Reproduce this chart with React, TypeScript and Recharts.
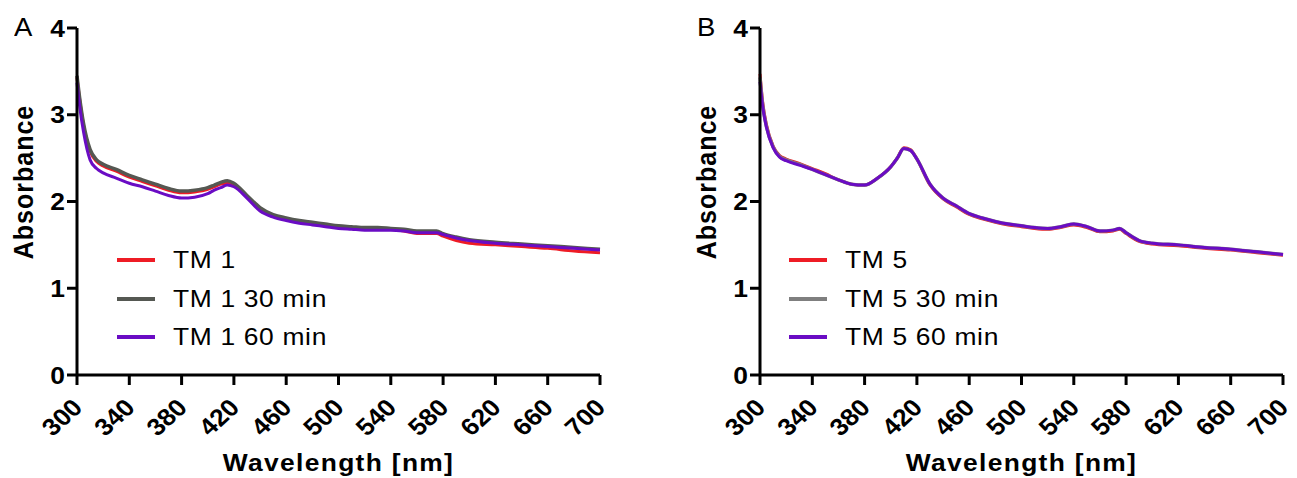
import React from "react";
import { Legend, Line, LineChart, XAxis, YAxis, Label } from "recharts";

// wavelength grid (nm)
const wavelengths = [
  300, 302, 305, 310, 315, 320, 330, 340, 350, 360, 370, 380, 390, 400, 405,
  410, 415, 420, 430, 440, 450, 460, 470, 480, 490, 500, 510, 520, 530, 540,
  550, 560, 570, 575, 580, 590, 600, 620, 640, 660, 680, 700,
];

// panel A
const tm1 = [
  3.43, 3.18, 2.88, 2.58, 2.46, 2.41, 2.35, 2.28, 2.23, 2.18, 2.13, 2.1, 2.11,
  2.14, 2.17, 2.2, 2.21, 2.19, 2.06, 1.92, 1.84, 1.8, 1.77, 1.75, 1.73, 1.71,
  1.7, 1.69, 1.69, 1.68, 1.66, 1.63, 1.63, 1.63, 1.6, 1.55, 1.52, 1.5, 1.48,
  1.46, 1.43, 1.41,
];
const tm1_30 = [
  3.45, 3.2, 2.9, 2.6, 2.48, 2.43, 2.37, 2.3, 2.25, 2.2, 2.15, 2.12, 2.13, 2.16,
  2.19, 2.22, 2.24, 2.21, 2.07, 1.93, 1.85, 1.81, 1.78, 1.76, 1.74, 1.72, 1.71,
  1.7, 1.7, 1.69, 1.68, 1.66, 1.66, 1.66, 1.63, 1.59, 1.56, 1.53, 1.51, 1.49,
  1.47, 1.45,
];
const tm1_60 = [
  3.37, 3.1, 2.8, 2.48, 2.38, 2.33, 2.27, 2.21, 2.17, 2.12, 2.07, 2.04, 2.05,
  2.09, 2.13, 2.16, 2.19, 2.17, 2.04, 1.89, 1.82, 1.78, 1.75, 1.73, 1.71, 1.69,
  1.68, 1.67, 1.67, 1.67, 1.66, 1.64, 1.64, 1.64, 1.62, 1.58, 1.55, 1.52, 1.5,
  1.48, 1.46, 1.44,
];

// panel B
const tm5 = [
  3.47, 3.15, 2.88, 2.64, 2.53, 2.49, 2.44, 2.38, 2.32, 2.25, 2.2, 2.19, 2.27,
  2.4, 2.5, 2.62, 2.6, 2.49, 2.19, 2.03, 1.94, 1.85, 1.8, 1.76, 1.73, 1.71, 1.69,
  1.68, 1.7, 1.73, 1.7, 1.65, 1.66, 1.68, 1.63, 1.54, 1.51, 1.49, 1.46, 1.44,
  1.41, 1.38,
];
const tm5_30 = [
  3.43, 3.12, 2.86, 2.63, 2.52, 2.48, 2.43, 2.37, 2.31, 2.25, 2.2, 2.19, 2.27,
  2.4, 2.5, 2.61, 2.59, 2.49, 2.2, 2.04, 1.95, 1.86, 1.81, 1.77, 1.74, 1.72, 1.7,
  1.69, 1.71, 1.74, 1.71, 1.66, 1.67, 1.69, 1.64, 1.55, 1.52, 1.5, 1.47, 1.45,
  1.42, 1.39,
];
const tm5_60 = [
  3.38, 3.1, 2.85, 2.62, 2.51, 2.47, 2.42, 2.37, 2.31, 2.25, 2.2, 2.19, 2.27,
  2.4, 2.5, 2.61, 2.59, 2.49, 2.2, 2.04, 1.95, 1.86, 1.81, 1.77, 1.74, 1.72, 1.7,
  1.69, 1.71, 1.74, 1.71, 1.66, 1.67, 1.69, 1.64, 1.55, 1.52, 1.5, 1.47, 1.45,
  1.42, 1.39,
];

const xTicks = [300, 340, 380, 420, 460, 500, 540, 580, 620, 660, 700];
const yTicks = [0, 1, 2, 3, 4];

const FONT = "Arial, 'Liberation Sans', sans-serif";
const RED = "#ee1c25";
const PURPLE = "#6a0cc4";

const dataA = wavelengths.map((w, i) => ({
  w,
  s0: tm1[i],
  s30: tm1_30[i],
  s60: tm1_60[i],
}));
const dataB = wavelengths.map((w, i) => ({
  w,
  s0: tm5[i],
  s30: tm5_30[i],
  s60: tm5_60[i],
}));

const YTick = (props: any) => {
  const { x, y, payload } = props;
  return (
    <g transform={`translate(${x},${y})`}>
      <text
        transform="scale(1.1,1)"
        textAnchor="end"
        dominantBaseline="central"
        fontFamily={FONT}
        fontWeight="bold"
        fontSize={24}
        fill="#000"
      >
        {payload.value}
      </text>
    </g>
  );
};

const XTick = (props: any) => {
  const { x, y, payload } = props;
  return (
    <g transform={`translate(${x + 7},${y + 22})`}>
      <text
        transform="scale(1.1,1) rotate(-45)"
        textAnchor="end"
        fontFamily={FONT}
        fontWeight="bold"
        fontSize={24}
        fill="#000"
      >
        {payload.value}
      </text>
    </g>
  );
};

const renderLegend = (props: any) => (
  <div>
    {props.payload.map((e: any) => (
      <div
        key={e.value}
        style={{ display: "flex", alignItems: "center", height: 38.5 }}
      >
        <span
          style={{ width: 38, height: 4, background: e.color, flex: "none" }}
        />
        <span
          style={{
            marginLeft: 18,
            fontFamily: FONT,
            fontSize: 24,
            letterSpacing: 0.6,
            whiteSpace: "nowrap",
            transform: "scaleX(1.1)",
            transformOrigin: "left center",
          }}
        >
          {e.value}
        </span>
      </div>
    ))}
  </div>
);

type PanelProps = {
  letter: string;
  data: typeof dataA;
  names: string[];
  gray: string;
  left: number;
  width: number;
  rightMargin: number;
  legendLeft: number;
};

function Panel({
  letter,
  data,
  names,
  gray,
  left,
  width,
  rightMargin,
  legendLeft,
}: PanelProps) {
  const plotRight = width - rightMargin;
  const xCenter = (77 + plotRight) / 2;
  return (
    <div style={{ position: "absolute", left, top: 0, width, height: 478 }}>
      <span
        style={{
          position: "absolute",
          left: 14,
          top: 15,
          fontFamily: FONT,
          fontSize: 25,
          lineHeight: 1,
          transform: "scaleX(1.1)",
          transformOrigin: "left top",
        }}
      >
        {letter}
      </span>
      <LineChart
        width={width}
        height={478}
        data={data}
        margin={{ top: 28, right: rightMargin, bottom: 3, left: 0 }}
      >
        <XAxis
          dataKey="w"
          type="number"
          domain={[300, 700]}
          ticks={xTicks}
          interval={0}
          height={100}
          tickSize={10}
          tickMargin={2}
          axisLine={{ stroke: "#000", strokeWidth: 3 }}
          tickLine={{ stroke: "#000", strokeWidth: 3 }}
          tick={<XTick />}
        >
          <Label
            content={() => (
              <text
                transform={`translate(${xCenter},471) scale(1.1,1)`}
                textAnchor="middle"
                fontFamily={FONT}
                fontWeight="bold"
                fontSize={24}
                letterSpacing={1.2}
                fill="#000"
              >
                Wavelength [nm]
              </text>
            )}
          />
        </XAxis>
        <YAxis
          type="number"
          domain={[0, 4]}
          ticks={yTicks}
          interval={0}
          width={77}
          tickSize={10}
          tickMargin={2}
          axisLine={{ stroke: "#000", strokeWidth: 3 }}
          tickLine={{ stroke: "#000", strokeWidth: 3 }}
          tick={<YTick />}
        >
          <Label
            content={() => (
              <text
                transform="translate(33,182) scale(1.1,1) rotate(-90)"
                textAnchor="middle"
                fontFamily={FONT}
                fontWeight="bold"
                fontSize={25}
                letterSpacing={1}
                fill="#000"
              >
                Absorbance
              </text>
            )}
          />
        </YAxis>
        <Legend
          layout="vertical"
          align="center"
          verticalAlign="middle"
          content={renderLegend}
          wrapperStyle={{ left: legendLeft, top: 241, width: 260 }}
        />
        <Line
          type="monotone"
          dataKey="s0"
          name={names[0]}
          stroke={RED}
          strokeWidth={3}
          dot={false}
          isAnimationActive={false}
        />
        <Line
          type="monotone"
          dataKey="s30"
          name={names[1]}
          stroke={gray}
          strokeWidth={3.5}
          dot={false}
          isAnimationActive={false}
        />
        <Line
          type="monotone"
          dataKey="s60"
          name={names[2]}
          stroke={PURPLE}
          strokeWidth={3}
          dot={false}
          isAnimationActive={false}
        />
      </LineChart>
    </div>
  );
}

export default function App(): React.JSX.Element {
  return (
    <div
      style={{
        position: "absolute",
        left: 0,
        top: 0,
        width: 1297,
        height: 478,
        background: "#fff",
        overflow: "hidden",
      }}
    >
      <Panel
        letter="A"
        data={dataA}
        names={["TM 1", "TM 1 30 min", "TM 1 60 min"]}
        gray="#555852"
        left={0}
        width={648}
        rightMargin={48}
        legendLeft={117}
      />
      <Panel
        letter="B"
        data={dataB}
        names={["TM 5", "TM 5 30 min", "TM 5 60 min"]}
        gray="#7f7f7f"
        left={683}
        width={614}
        rightMargin={14}
        legendLeft={106}
      />
    </div>
  );
}
